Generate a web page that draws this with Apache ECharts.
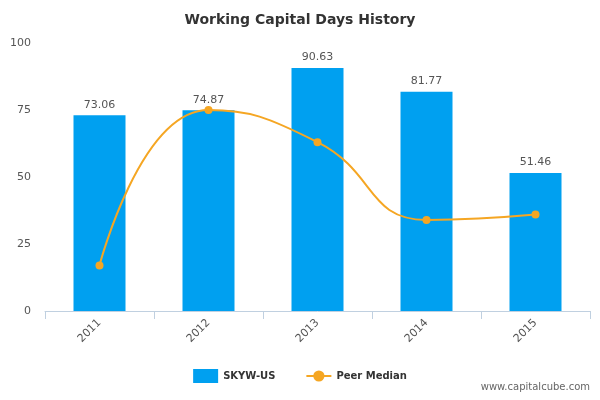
<!DOCTYPE html>
<html><head><meta charset="utf-8">
<script src="https://cdn.jsdelivr.net/npm/echarts@6/dist/echarts.min.js"></script>
<style>html,body{margin:0;padding:0;background:#fff}#c{width:600px;height:400px}</style>
</head><body><div id="c"></div>
<script>
const categories = ['2011','2012','2013','2014','2015'];
const companyValues = [73.06, 74.87, 90.63, 81.77, 51.46];
const peerMedian = [17, 75, 63, 34, 36];
const yTicks = [0, 25, 50, 75, 100];

const chart = echarts.init(document.getElementById('c'));
chart.setOption({
  animation: false,
  title: {text: 'Working Capital Days History', left: 'center', top: 8,
    textStyle: {fontFamily: 'DejaVu Sans', fontSize: 14, fontWeight: 'bold', color: '#333'}},
  grid: {left: 45, right: 10, top: 43, bottom: 89},
  legend: {bottom: 12, left: 'center', itemGap: 30,
    textStyle: {fontFamily: 'DejaVu Sans', fontSize: 10, fontWeight: 'bold', color: '#333'},
    data: [{name: 'SKYW-US', icon: 'rect'}, {name: 'Peer Median'}]},
  xAxis: {type: 'category', data: categories,
    axisLine: {lineStyle: {color: '#c0d0e0'}},
    axisTick: {show: true, length: 8, lineStyle: {color: '#c0d0e0'}},
    axisLabel: {rotate: 45, color: '#555', fontFamily: 'DejaVu Sans', fontSize: 11, margin: 10}},
  yAxis: {type: 'value', min: 0, max: 100, interval: 25,
    splitLine: {show: false}, axisLine: {show: false}, axisTick: {show: false},
    axisLabel: {color: '#555', fontFamily: 'DejaVu Sans', fontSize: 11, margin: 14}},
  series: [
    {name: 'SKYW-US', type: 'bar', data: companyValues, barWidth: 52,
      itemStyle: {color: '#00a0f0'},
      label: {show: true, position: 'top', color: '#555', fontFamily: 'DejaVu Sans', fontSize: 11,
        formatter: p => p.value.toFixed(2)}},
    {name: 'Peer Median', type: 'line', data: peerMedian, smooth: 0.5,
      symbol: 'circle', symbolSize: 8,
      itemStyle: {color: '#f5a623'}, lineStyle: {color: '#f5a623', width: 2}}
  ],
  graphic: [{type: 'text', right: 10, bottom: 8,
    style: {text: 'www.capitalcube.com', fill: '#666', font: '10px DejaVu Sans'}}]
});
</script></body></html>
